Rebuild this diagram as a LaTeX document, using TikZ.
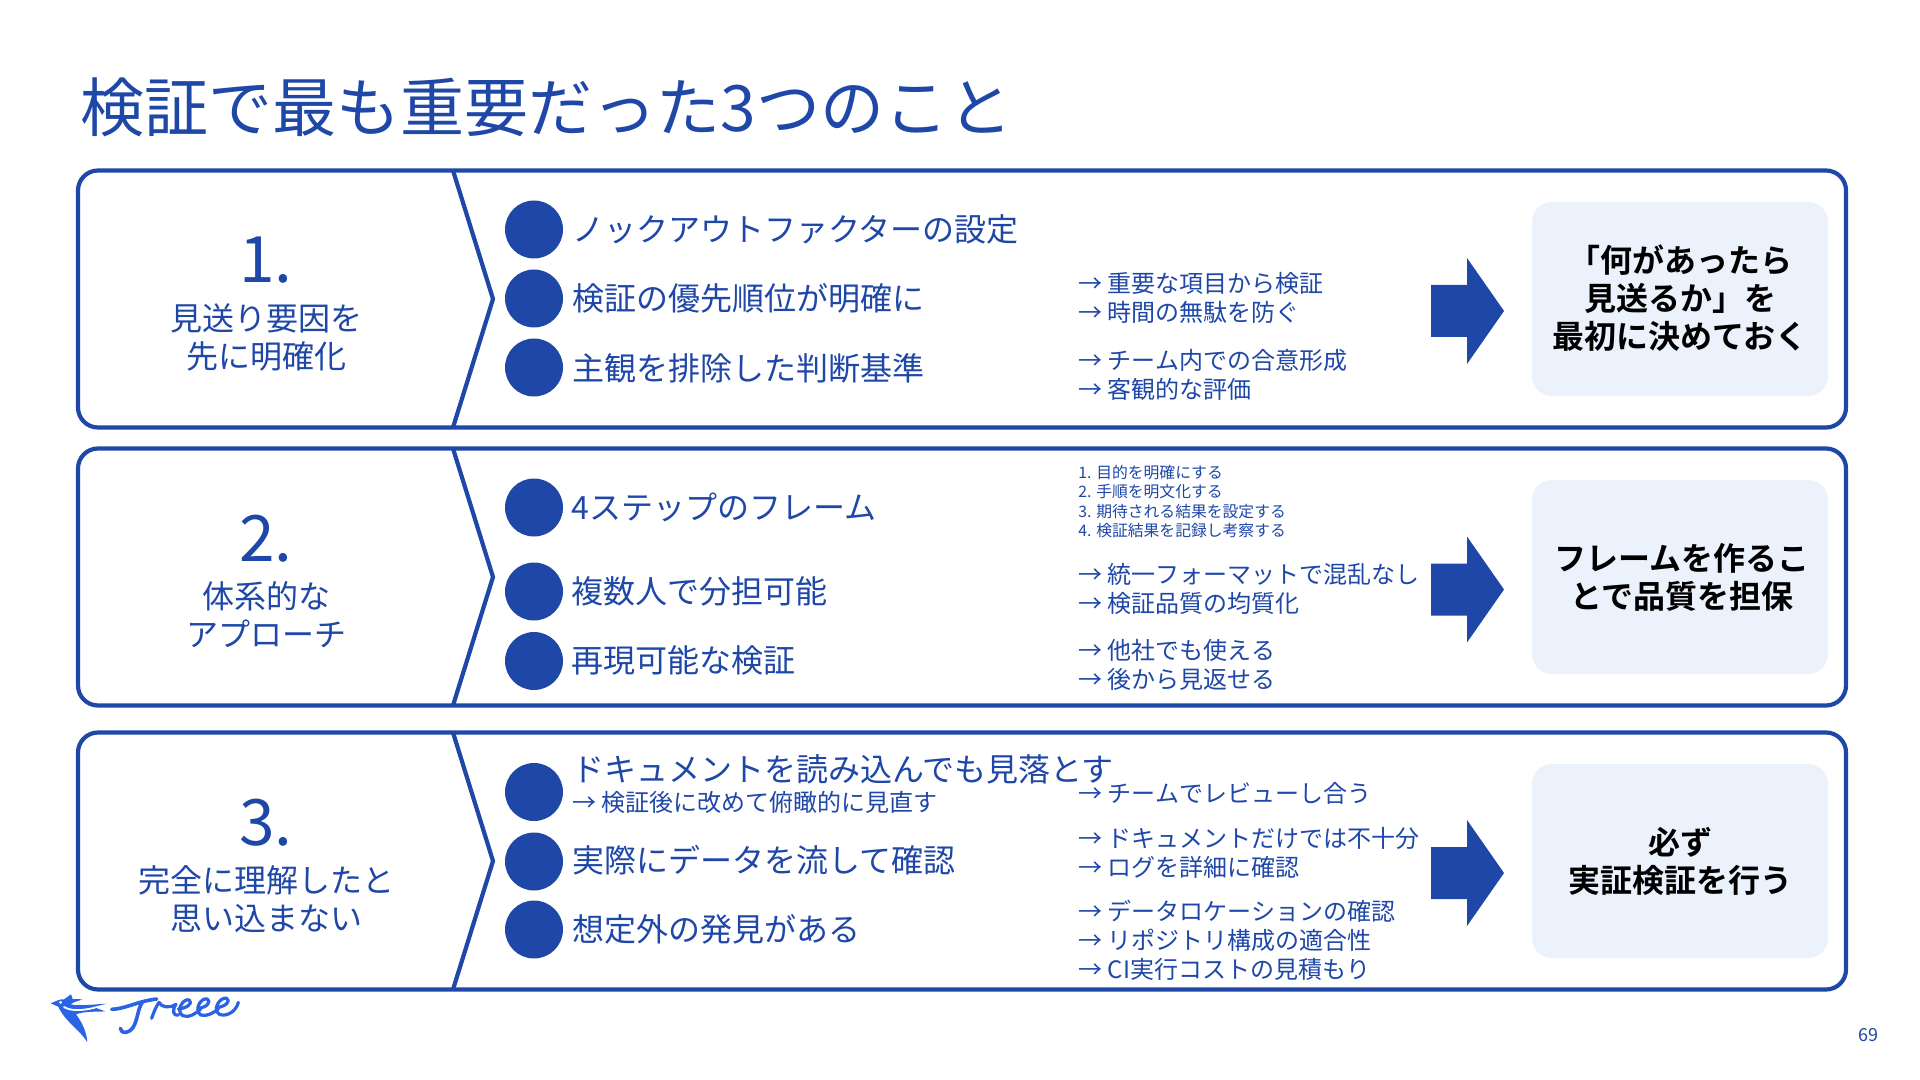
\documentclass[tikz,border=0pt]{standalone}
\usepackage{fontspec}
\setmainfont{Noto Sans CJK JP}[BoldFont={Noto Sans CJK JP Bold}]
\definecolor{fblue}{HTML}{1E47A8}
\definecolor{fbox}{HTML}{EBF2FC}
\definecolor{flogo}{HTML}{2A63E6}
\newcommand{\fs}[2]{\fontsize{#1pt}{#2pt}\selectfont}
\tikzset{
  panel/.style={draw=fblue,line width=2.1pt,rounded corners=10pt},
  chev/.style={draw=fblue,line width=2.1pt,line join=miter},
  dot/.style={circle,fill=fblue,minimum size=29pt,inner sep=0pt},
  item/.style={anchor=west,inner sep=0pt,text=fblue,font=\fs{16}{16},text height=13.5pt,text depth=2.5pt},
  sub/.style={anchor=west,inner sep=0pt,text=fblue,font=\fs{12}{14.5},align=left},
  tiny/.style={anchor=west,inner sep=0pt,text=fblue,font=\fs{7.9}{9.6},align=left},
  num/.style={inner sep=0pt,text=fblue,font=\fs{32}{32}},
  lab/.style={inner sep=0pt,text=fblue,font=\fs{16}{19},align=center},
  take/.style={fill=fbox,rounded corners=10pt,minimum width=148pt,minimum height=97pt,inner sep=0pt},
  taketxt/.style={inner sep=0pt,text=black,font=\fs{16}{19}\bfseries,align=center},
  bigarrow/.style={fill=fblue,draw=none},
}
\begin{document}
\begin{tikzpicture}[x=0.5pt,y=-0.5pt]
\useasboundingbox (0,0) rectangle (1920,1080);
\fill[white] (0,0) rectangle (1920,1080);
\node[anchor=west,inner sep=0pt,text=fblue,font=\fs{32}{32}] (title) at (80.5,107) {検証で最も重要だった3つのこと};
% panels
\draw[panel] (78,170.5) rectangle (1846,427.5);
\draw[panel] (78,448.5) rectangle (1846,705.5);
\draw[panel] (78,732.5) rectangle (1846,989.5);
\draw[chev] (453,170.5) -- (493,299) -- (453,427.5);
\draw[chev] (453,448.5) -- (493,577) -- (453,705.5);
\draw[chev] (453,732.5) -- (493,861) -- (453,989.5);
% left labels
\node[num] (n1) at (266,260) {1.};
\node[lab] (l1) at (266,337) {見送り要因を\\先に明確化};
\node[num] (n2) at (266,539) {2.};
\node[lab] (l2) at (266,615) {体系的な\\アプローチ};
\node[num] (n3) at (266,823) {3.};
\node[lab] (l3) at (266,899) {完全に理解したと\\思い込まない};
% dots
\foreach \nm/\yy in {a/229.5,b/298.5,c/367.5,d/507.5,e/591.5,f/661,g/792,h/861.5,i/929.5}
  \node[dot] (dot\nm) at (534,\yy) {};
% items
\node[item] (ia) at (572.5,231) {ノックアウトファクターの設定};
\node[item] (ib) at (572.5,299.5) {検証の優先順位が明確に};
\node[item] (ic) at (572.5,369) {主観を排除した判断基準};
\node[item] (id) at (571,508) {4ステップのフレーム};
\node[item] (ie) at (571.5,592) {複数人で分担可能};
\node[item] (if) at (571.5,661) {再現可能な検証};
\node[item] (ig) at (572,770) {ドキュメントを読み込んでも見落とす};
\node[sub] (ig2) at (572,802) {→ 検証後に改めて俯瞰的に見直す};
\node[item] (ih) at (572,861) {実際にデータを流して確認};
\node[item] (ii) at (572,930) {想定外の発見がある};
% sub text
\node[sub] (s1) at (1078,298) {→ 重要な項目から検証\\→ 時間の無駄を防ぐ};
\node[sub] (s2) at (1078,375) {→ チーム内での合意形成\\→ 客観的な評価};
\node[tiny] (s3) at (1078,501.5) {1. 目的を明確にする\\2. 手順を明文化する\\3. 期待される結果を設定する\\4. 検証結果を記録し考察する};
\node[sub] (s4) at (1078,589) {→ 統一フォーマットで混乱なし\\→ 検証品質の均質化};
\node[sub] (s5) at (1078,665) {→ 他社でも使える\\→ 後から見返せる};
\node[sub] (s6) at (1078,793) {→ チームでレビューし合う};
\node[sub] (s7) at (1078,853) {→ ドキュメントだけでは不十分\\→ ログを詳細に確認};
\node[sub] (s8) at (1078,940.5) {→ データロケーションの確認\\→ リポジトリ構成の適合性\\→ CI実行コストの見積もり};
% block arrows
\foreach \cy in {311,589.5,873}
  \fill[bigarrow] (1431,\cy-26) -- (1467,\cy-26) -- (1467,\cy-53) -- (1504,\cy) -- (1467,\cy+53) -- (1467,\cy+26) -- (1431,\cy+26) -- cycle;
% takeaways
\node[take] (t1) at (1680,299) {};
\node[take] (t2) at (1680,577) {};
\node[take] (t3) at (1680,861) {};
\node[taketxt] (tt1) at (1680,298.5) {「何があったら\\見送るか」を\\最初に決めておく};
\node[taketxt] (tt2) at (1681.5,577) {フレームを作るこ\\とで品質を担保};
\node[taketxt] (tt3) at (1680,861) {必ず\\実証検証を行う};
% page number
\node[inner sep=0pt,text=fblue,font=\fs{9}{9}] (pg) at (1868,1035) {69};
% logo: bird
\begin{scope}[shift={(40,985)},x=0.16667pt,y=-0.16667pt]
\fill[flogo] (32,55) .. controls (48,48) and (60,42) .. (72,43) -- (93,28) -- (98,42) -- (128,43) -- (102,52) -- (92,58) .. controls (120,64) and (160,58) .. (200,56) -- (160,66) -- (196,79) .. controls (165,81) and (135,78) .. (108,88) .. controls (125,110) and (140,140) .. (142,172) .. controls (125,140) and (75,110) .. (55,65) -- cycle;
\draw[white,line width=0.9pt,line cap=round] (72,66) .. controls (95,80) and (130,76) .. (165,68);
\fill[white] (62,52) circle (5);
\end{scope}
% logo: lettering
\begin{scope}[shift={(110,985)},x=0.16667pt,y=-0.16667pt]
\draw[flogo,line width=1.8pt,line cap=round,line join=round]
  (5,73) .. controls (45,72) and (85,48) .. (140,42)
  (98,50) .. controls (78,75) and (85,135) .. (48,142) .. controls (38,143) and (31,138) .. (31,130);
\draw[flogo,line width=1.6pt,line cap=round,line join=round]
  (125,100) .. controls (132,80) and (138,65) .. (147,52) .. controls (155,68) and (178,70) .. (198,58)
  (198,58) .. controls (185,75) and (190,95) .. (205,90)
  (205,72) .. controls (230,70) and (250,55) .. (238,45) .. controls (222,38) and (195,75) .. (218,92) .. controls (235,100) and (260,85) .. (272,72)
  (264,70) .. controls (290,68) and (305,50) .. (292,42) .. controls (275,36) and (250,72) .. (272,90) .. controls (290,96) and (315,82) .. (326,70)
  (318,68) .. controls (345,66) and (365,48) .. (350,40) .. controls (332,34) and (305,72) .. (328,88) .. controls (350,96) and (378,80) .. (385,52);
\end{scope}
\end{tikzpicture}
\end{document}
